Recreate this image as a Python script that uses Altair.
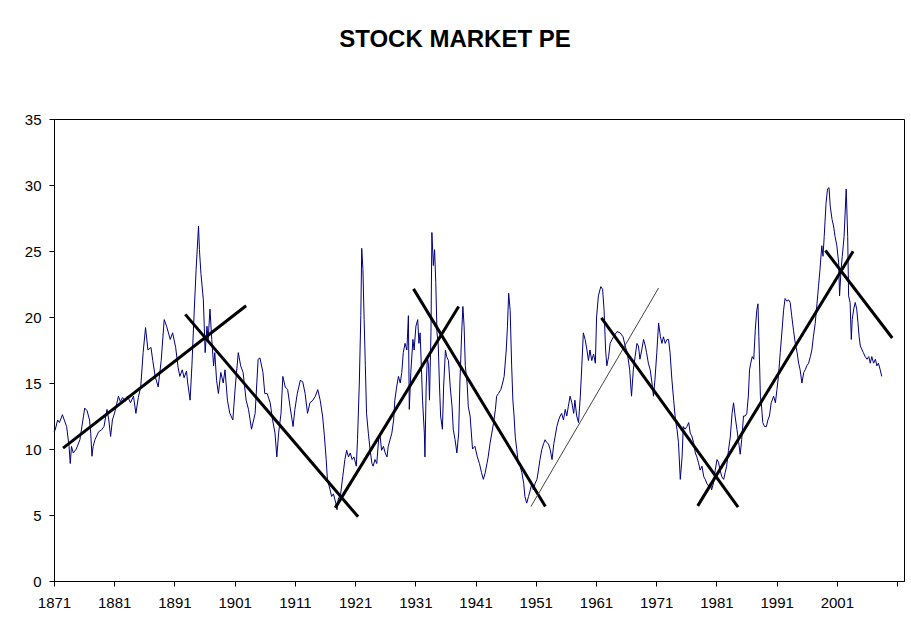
import altair as alt
import pandas as pd

# Price/earnings ratio of the US stock market, 1871-2008 (year, P/E)
years = [
    1871.0, 1871.2, 1871.6, 1871.9, 1872.4, 1872.7, 1873.1, 1873.5, 1873.7, 1873.9,
    1874.2, 1874.7, 1875.3, 1876.1, 1876.5, 1876.9, 1877.1, 1877.3, 1877.5, 1877.8,
    1878.4, 1878.9, 1879.3, 1879.8, 1880.1, 1880.4, 1880.7, 1881.1, 1881.7, 1882.0,
    1882.4, 1882.8, 1883.2, 1883.7, 1884.2, 1884.6, 1885.0, 1885.4, 1885.8, 1886.2,
    1886.6, 1887.1, 1887.4, 1887.8, 1888.3, 1888.8, 1889.3, 1889.7, 1890.3, 1890.7,
    1891.2, 1891.6, 1891.9, 1892.3, 1892.6, 1893.0, 1893.2, 1893.6,
    1893.9, 1894.3, 1894.6, 1895.0, 1895.15, 1895.4, 1895.8, 1896.1, 1896.4, 1896.6,
    1896.9, 1897.2, 1897.5, 1897.7, 1898.0, 1898.3, 1898.7, 1899.1, 1899.4, 1899.8,
    1900.2, 1900.7, 1901.1, 1901.6, 1902.0, 1902.4, 1902.9, 1903.3, 1903.8, 1904.4,
    1904.9, 1905.2, 1905.7, 1906.0, 1906.4, 1906.9, 1907.3, 1907.7, 1908.0, 1908.3,
    1908.7, 1909.0, 1909.4, 1909.8, 1910.2, 1910.7, 1911.0, 1911.4, 1911.9, 1912.3,
    1912.7, 1913.1, 1913.5, 1914.0, 1914.4, 1914.8, 1915.2, 1915.6, 1915.9, 1916.2,
    1916.4, 1916.85, 1917.1, 1917.4, 1917.8, 1918.0,
    1918.2, 1918.6, 1918.95, 1919.3, 1919.6, 1919.9, 1920.2, 1920.5, 1920.8, 1921.2,
    1921.4, 1921.7, 1921.95, 1922.1, 1922.3, 1922.5, 1922.7, 1922.9, 1923.2, 1923.5,
    1923.8, 1924.0, 1924.3, 1924.6, 1924.9, 1925.1, 1925.4, 1925.7, 1926.0, 1926.3,
    1926.5, 1926.8, 1927.1, 1927.4, 1927.6, 1927.9, 1928.2, 1928.5, 1928.75, 1929.0,
    1929.3, 1929.6, 1929.85, 1930.0, 1930.25, 1930.6, 1930.8, 1931.1, 1931.4, 1931.6,
    1931.8, 1932.0, 1932.2, 1932.5, 1932.6, 1932.8, 1933.0, 1933.2, 1933.35, 1933.6,
    1933.75, 1934.0, 1934.2, 1934.4, 1934.6, 1934.8, 1935.0, 1935.2, 1935.5, 1935.7,
    1936.0, 1936.2, 1936.5, 1936.8, 1937.1, 1937.3, 1937.6, 1937.9, 1938.2, 1938.4,
    1938.7, 1938.9, 1939.1, 1939.3, 1939.6, 1939.8, 1940.1, 1940.5,
    1940.9, 1941.3, 1941.65, 1942.0, 1942.3, 1942.6, 1942.9, 1943.1, 1943.4, 1943.7,
    1944.0, 1944.3, 1944.5, 1944.8, 1945.2, 1945.5, 1945.75, 1946.1, 1946.3, 1946.5,
    1946.75, 1947.0, 1947.2, 1947.4, 1947.6, 1947.85, 1948.1, 1948.4, 1948.7, 1949.0,
    1949.2, 1949.5, 1949.8, 1950.1, 1950.35, 1950.6, 1950.9, 1951.2, 1951.45, 1951.7,
    1952.0, 1952.3, 1952.55, 1952.8, 1953.1, 1953.4, 1953.7, 1954.0, 1954.2, 1954.5,
    1954.8, 1955.05, 1955.3, 1955.6, 1955.9, 1956.15, 1956.4, 1956.7, 1957.0, 1957.3,
    1957.5, 1957.8, 1958.1, 1958.4, 1958.65, 1958.9, 1959.2, 1959.5, 1959.75, 1960.0,
    1960.3, 1960.6, 1960.9, 1961.1, 1961.4, 1961.8, 1962.1, 1962.35, 1962.6, 1962.8,
    1963.1, 1963.35,
    1963.9, 1964.5, 1965.0, 1965.5, 1965.85, 1966.2, 1966.6, 1966.9, 1967.2, 1967.5,
    1967.8, 1968.05, 1968.3, 1968.6, 1968.9, 1969.2, 1969.4, 1969.7, 1970.0, 1970.3,
    1970.55, 1970.8, 1971.1, 1971.4, 1971.7, 1971.95, 1972.2, 1972.5, 1972.8, 1973.05,
    1973.3, 1973.6, 1973.9, 1974.2, 1974.45, 1974.7, 1975.0, 1975.3, 1975.5, 1975.8,
    1976.1, 1976.4, 1976.65, 1976.9, 1977.2, 1977.5, 1977.75, 1978.0, 1978.3, 1978.6,
    1978.9, 1979.15, 1979.4, 1979.7, 1980.0, 1980.2, 1980.5, 1980.8, 1981.1, 1981.35,
    1981.6, 1981.9, 1982.2, 1982.45, 1982.7, 1983.0, 1983.3, 1983.6, 1983.85, 1984.1,
    1984.4, 1984.7, 1984.95,
    1985.2, 1985.5, 1985.8, 1986.05, 1986.3, 1986.5, 1986.7, 1986.95, 1987.2, 1987.45,
    1987.7, 1987.9, 1988.05, 1988.3, 1988.45, 1988.7, 1989.0, 1989.3, 1989.55, 1989.8,
    1990.1, 1990.5, 1990.8, 1991.05, 1991.3, 1991.6, 1991.9, 1992.15, 1992.4, 1992.7,
    1993.0, 1993.25, 1993.5, 1993.8, 1994.1, 1994.4, 1994.65, 1994.9, 1995.2, 1995.5,
    1995.75, 1996.0, 1996.3, 1996.6, 1996.85, 1997.1, 1997.4, 1997.7, 1997.95, 1998.2,
    1998.5, 1998.7, 1998.9, 1999.2, 1999.45, 1999.7, 1999.9, 2000.2, 2000.45, 2000.7,
    2001.0, 2001.3, 2001.45, 2001.7, 2001.9, 2002.2, 2002.55, 2002.8, 2002.95, 2003.2,
    2003.4, 2003.55, 2003.8, 2004.05, 2004.3, 2004.5, 2004.7, 2004.9, 2005.2, 2005.4,
    2005.7, 2006.0, 2006.3, 2006.55, 2006.8, 2007.1, 2007.4, 2007.65, 2007.9, 2008.2,
    2008.45,
]

pe = [
    11.3, 11.45, 12.2, 12.0, 12.6, 12.2, 11.7, 10.2, 8.9, 10.2,
    9.7, 10.0, 10.7, 13.1, 12.9, 12.2, 11.2, 9.45, 10.2, 10.7,
    11.3, 11.45, 11.7, 13.0, 12.2, 10.95, 12.2, 12.8, 14.0, 13.6,
    13.9, 13.6, 14.0, 13.5, 14.0, 12.7, 13.9, 14.7, 17.3, 19.2,
    17.5, 17.7, 16.7, 15.5, 14.7, 16.7, 19.8, 19.3, 18.3, 18.8,
    17.7, 16.2, 15.5, 16.0, 15.4, 15.9, 15.0, 13.7,
    16.3, 20.6, 23.6, 26.9, 25.1, 23.3, 21.3, 17.3, 19.3, 18.3,
    20.6, 18.3, 16.3, 17.3, 15.2, 14.2, 15.8, 15.0, 16.0, 13.7,
    12.7, 12.2, 14.7, 17.3, 16.3, 15.8, 13.7, 13.0, 11.5, 12.7,
    16.8, 16.9, 15.8, 14.2, 14.2, 13.5, 12.2, 11.2, 9.4, 11.2,
    12.7, 15.5, 14.7, 14.5, 13.2, 11.7, 13.0, 14.2, 15.2, 15.1,
    14.2, 12.7, 13.5, 13.7, 14.0, 14.5, 13.7, 12.5, 11.0, 9.2,
    7.7, 6.9, 6.4, 6.6, 5.9, 5.4,
    6.2, 6.6, 7.9, 9.2, 9.9, 9.4, 9.7, 9.2, 9.4, 8.7,
    10.7, 15.0, 20.1, 25.2, 23.6, 19.8, 16.3, 12.7, 11.2, 9.9,
    8.9, 8.7, 9.2, 8.9, 10.7, 11.2, 9.9, 10.2, 9.7, 9.4,
    10.2, 10.7, 11.2, 12.2, 13.7, 14.7, 15.5, 15.0, 15.8, 17.3,
    18.0, 17.5, 20.1, 13.0, 15.8, 18.3, 17.5, 19.3, 19.8, 18.0,
    18.8, 16.3, 13.7, 11.2, 9.4, 14.7, 17.0, 16.3, 13.7, 18.8,
    26.4, 23.9, 25.1, 22.6, 18.8, 18.0, 15.0, 12.5, 11.5, 14.7,
    17.5, 17.0, 16.7, 14.7, 13.2, 11.5, 10.7, 9.7, 11.2, 15.0,
    18.8, 20.8, 19.3, 16.3, 15.0, 13.2, 12.5, 10.0,
    10.2, 9.4, 8.9, 8.2, 7.7, 8.2, 8.9, 9.4, 10.4, 11.2,
    12.0, 13.0, 14.0, 14.2, 14.5, 15.0, 15.5, 17.5, 19.3, 21.8,
    20.5, 16.3, 13.7, 12.5, 10.9, 9.95, 8.9, 8.7, 8.2, 7.4,
    6.4, 5.9, 6.4, 6.9, 7.4, 6.9, 7.4, 7.7, 8.4, 9.2,
    9.95, 10.4, 10.7, 10.5, 10.4, 9.95, 9.2, 10.4, 10.9, 11.7,
    12.2, 12.5, 12.7, 12.2, 13.0, 12.5, 13.2, 14.0, 13.5, 12.7,
    13.7, 12.5, 12.0, 14.0, 16.3, 18.8, 18.3, 17.5, 16.7, 17.5,
    16.7, 17.2, 16.5, 20.0, 21.6, 22.3, 22.1, 20.5, 17.5, 16.3,
    17.0, 18.0,
    18.5, 18.9, 18.8, 18.5, 17.8, 17.3, 16.0, 14.0, 16.0, 17.0,
    18.0, 17.8, 16.8, 17.5, 18.3, 17.8, 17.3, 16.5, 16.0, 15.0,
    14.0, 15.3, 17.3, 19.55, 18.5, 18.0, 18.5, 18.0, 18.3, 18.3,
    17.3, 15.3, 13.7, 12.2, 11.5, 10.5, 7.7, 9.4, 11.7, 11.5,
    11.7, 12.0, 11.2, 11.0, 10.5, 9.7, 9.4, 9.0, 8.4, 8.7,
    7.9, 7.7, 7.4, 7.2, 7.4, 6.9, 7.4, 8.4, 9.2, 9.0,
    8.4, 7.9, 7.7, 8.2, 8.7, 9.9, 10.9, 12.7, 13.5, 12.5,
    11.5, 10.5, 9.6,
    10.7, 12.5, 12.5, 12.7, 14.0, 16.0, 16.5, 17.0, 16.8, 19.0,
    20.5, 21.0, 18.5, 14.0, 13.5, 12.0, 11.7, 11.7, 12.2, 12.5,
    13.5, 14.0, 13.5, 14.5, 15.5, 17.3, 19.0, 20.5, 21.4, 21.2,
    21.3, 21.1, 20.1, 19.0, 18.0, 17.3, 16.5, 16.0, 15.0, 15.8,
    16.0, 16.3, 16.5, 17.0, 17.5, 18.5, 19.5, 21.0, 22.3, 23.6,
    25.4, 24.6, 26.1, 28.6, 29.7, 29.8, 28.4, 27.4, 26.9, 26.1,
    25.4, 24.1, 21.6, 23.6, 24.6, 26.1, 29.7, 26.1, 21.6, 21.1,
    18.3, 19.8, 20.6, 21.1, 20.6, 19.6, 18.5, 17.8, 17.5, 17.3,
    17.0, 16.8, 17.0, 16.5, 17.0, 16.5, 16.8, 16.3, 16.5, 16.0,
    15.5,
]

# Hand-drawn trend lines: start/end year and P/E, line weight
trend_x1 = [1872.5, 1892.8, 1917.7, 1930.7, 1950.2, 1961.9, 1977.9, 1999.1]
trend_y1 = [10.07, 20.2, 5.54, 22.13, 5.64, 19.93, 5.69, 25.04]
trend_x2 = [1902.9, 1921.5, 1938.2, 1952.6, 1971.4, 1984.6, 2003.7, 2010.2]
trend_y2 = [20.85, 4.86, 20.8, 5.64, 22.2, 5.59, 24.98, 18.41]
trend_w = [3, 3, 3, 3, 1, 3, 3, 3]
trend_c = ["#000000", "#000000", "#000000", "#000000", "#444444", "#000000", "#000000", "#000000"]

tick_years = list(range(1871, 2012, 10))
pe_ticks = list(range(0, 36, 5))

series = pd.DataFrame({"year": years, "pe": pe})
trends = pd.DataFrame({"x1": trend_x1, "y1": trend_y1, "x2": trend_x2,
                       "y2": trend_y2, "w": trend_w, "c": trend_c})

FONT = "Liberation Sans"

x_scale = alt.Scale(domain=[1871, 2012.15], nice=False, zero=False)
y_scale = alt.Scale(domain=[0, 35], nice=False, zero=True)

x_axis = alt.Axis(
    values=tick_years, format="d", title=None, grid=False,
    labelExpr="datum.value >= 2011 ? '' : datum.label",
    labelFont=FONT, labelFontSize=15, labelColor="black",
    labelPadding=9, tickSize=5, tickColor="black", domainColor="black",
    labelFlush=False, labelOverlap=False,
)
y_axis = alt.Axis(
    values=pe_ticks, title=None, grid=False,
    labelFont=FONT, labelFontSize=15, labelColor="black",
    labelPadding=8, tickSize=5, tickColor="black", domainColor="black",
    labelFlush=False, labelOverlap=False,
)

line = alt.Chart(series).mark_line(color="#000080", strokeWidth=1).encode(
    x=alt.X("year:Q", scale=x_scale, axis=x_axis),
    y=alt.Y("pe:Q", scale=y_scale, axis=y_axis),
)

rules = alt.Chart(trends).mark_rule().encode(
    x=alt.X("x1:Q", scale=x_scale, axis=x_axis),
    y=alt.Y("y1:Q", scale=y_scale, axis=y_axis),
    x2="x2:Q",
    y2="y2:Q",
    strokeWidth=alt.StrokeWidth("w:Q", scale=None, legend=None),
    color=alt.Color("c:N", scale=None, legend=None),
)

chart = (
    alt.layer(line, rules)
    .properties(
        width=850,
        height=462,
        autosize=alt.AutoSizeParams(type="none"),
        padding={"left": 54, "top": 119, "right": 7, "bottom": 42},
        title=alt.TitleParams(
            text="STOCK MARKET PE", font=FONT, fontSize=24, fontWeight="bold",
            color="black", anchor="middle", frame="group", dx=-24,
            baseline="alphabetic", offset=41,
        ),
        background="white",
    )
    .configure_view(stroke="black", strokeWidth=1)
)

chart.save("out.html", embed_options={"renderer": "svg", "actions": False})
